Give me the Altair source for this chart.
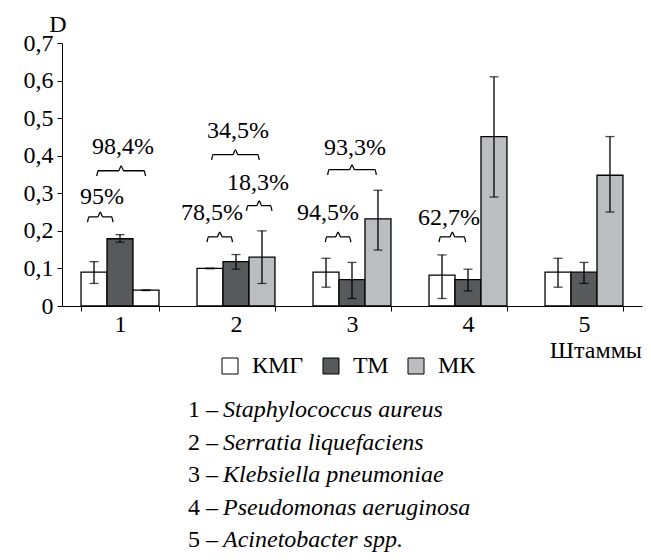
import altair as alt
import pandas as pd

FONT = "Liberation Serif"
FS = 24

strains = ["1", "2", "3", "4", "5"]
series = ["КМГ", "ТМ", "МК"]
colors = ["#ffffff", "#58595b", "#bcbdc0"]

kmg = [0.090, 0.100, 0.090, 0.082, 0.090]
kmg_lo = [0.060, 0.099, 0.050, 0.020, 0.050]
kmg_hi = [0.118, 0.101, 0.127, 0.136, 0.127]

tm = [0.179, 0.118, 0.070, 0.070, 0.090]
tm_lo = [0.170, 0.098, 0.020, 0.040, 0.060]
tm_hi = [0.190, 0.137, 0.116, 0.098, 0.116]

mk = [0.042, 0.130, 0.232, 0.451, 0.348]
mk_lo = [0.041, 0.060, 0.149, 0.290, 0.250]
mk_hi = [0.043, 0.200, 0.308, 0.610, 0.451]

species = [
    "Staphylococcus aureus",
    "Serratia liquefaciens",
    "Klebsiella pneumoniae",
    "Pseudomonas aeruginosa",
    "Acinetobacter spp.",
]

brace_labels = ["95%", "98,4%", "34,5%", "78,5%", "18,3%", "94,5%", "93,3%", "62,7%"]
brace_x0 = [0.72, 0.80, 1.79, 1.75, 2.09, 2.77, 2.79, 3.75]
brace_x1 = [0.94, 1.22, 2.20, 1.97, 2.31, 2.99, 3.21, 3.98]
brace_y = [0.237, 0.360, 0.403, 0.184, 0.267, 0.184, 0.363, 0.184]
label_x = [0.845, 1.026, 2.017, 1.793, 2.190, 2.793, 3.026, 3.836]
label_y = [0.290, 0.424, 0.467, 0.248, 0.328, 0.248, 0.421, 0.235]

# ---- bar table ----
rows = []
for vals, los, his, s in [(kmg, kmg_lo, kmg_hi, "КМГ"), (tm, tm_lo, tm_hi, "ТМ"), (mk, mk_lo, mk_hi, "МК")]:
    for st, v, lo, hi in zip(strains, vals, los, his):
        rows.append({"strain": st, "series": s, "value": v, "lo": lo, "hi": hi})
df = pd.DataFrame(rows)

# ---- brace shapes (curly brace built from the read span) ----
H = 0.014
brows = []
for i, (a, b, y) in enumerate(zip(brace_x0, brace_x1, brace_y)):
    m = (a + b) / 2
    pts = [(a, y - H), (a + 0.012, y), (m - 0.022, y), (m, y + H * 0.9),
           (m + 0.022, y), (b - 0.012, y), (b, y - H)]
    for k, (px, py) in enumerate(pts):
        brows.append({"id": i, "k": k, "x": px, "y": py})
bdf = pd.DataFrame(brows)
ldf = pd.DataFrame({"label": brace_labels, "x": label_x, "y": label_y})

xenc = alt.X(
    "strain:N", sort=strains,
    scale=alt.Scale(paddingInner=0.328, paddingOuter=0.164),
    axis=alt.Axis(title=None, tickBand="extent", labelAngle=0, tickSize=5,
                  labelFont=FONT, labelFontSize=FS, labelColor="black",
                  labelPadding=1, domainColor="black", tickColor="black"),
)
xoff = alt.XOffset("series:N", sort=series,
                   scale=alt.Scale(domain=series, paddingInner=0, paddingOuter=0))
yscale = alt.Scale(domain=[0, 0.7], nice=False)
yaxis = alt.Axis(title=None, values=[0, 0.1, 0.2, 0.3, 0.4, 0.5, 0.6, 0.7],
                 labelExpr="datum.value == 0 ? '0' : replace(format(datum.value, '.1f'), '.', ',')",
                 grid=False, tickSize=5, labelFont=FONT, labelFontSize=FS,
                 labelColor="black", labelPadding=4,
                 domainColor="black", tickColor="black")

base = alt.Chart(df)
bars = base.mark_bar(stroke="black", strokeWidth=1.3).encode(
    x=xenc,
    xOffset=xoff,
    y=alt.Y("value:Q", scale=yscale, axis=yaxis),
    fill=alt.condition(
        "datum.strain == '1' && datum.series == 'МК'",
        alt.value("white"),
        alt.Fill("series:N", sort=series,
                 scale=alt.Scale(domain=series, range=colors),
                 legend=alt.Legend(title=None, orient="none", legendX=156, legendY=311,
                                   direction="horizontal", symbolType="square",
                                   symbolSize=256, symbolStrokeColor="black",
                                   symbolStrokeWidth=1, labelFont=FONT,
                                   labelFontSize=FS, labelColor="black",
                                   labelOffset=10, columnPadding=15, padding=0)),
    ),
)
rules = base.mark_rule(color="black", strokeWidth=1.3).encode(
    x=xenc, xOffset=xoff, y=alt.Y("lo:Q", scale=yscale, axis=yaxis), y2="hi:Q")
cap_hi = base.mark_tick(color="black", thickness=1.3, size=9).encode(
    x=xenc, xOffset=xoff, y=alt.Y("hi:Q", scale=yscale, axis=yaxis))
cap_lo = base.mark_tick(color="black", thickness=1.3, size=9).encode(
    x=xenc, xOffset=xoff, y=alt.Y("lo:Q", scale=yscale, axis=yaxis))

band_layer = alt.layer(bars, rules, cap_hi, cap_lo)

qx = alt.Scale(domain=[0.5, 5.5], nice=False, zero=False)
braces = alt.Chart(bdf).mark_line(color="black", strokeWidth=1.3, interpolate="monotone").encode(
    x=alt.X("x:Q", scale=qx, axis=None),
    y=alt.Y("y:Q", scale=yscale, axis=yaxis),
    detail="id:N",
    order="k:Q",
)
pct = alt.Chart(ldf).mark_text(font=FONT, fontSize=FS, color="black",
                               align="center", baseline="middle").encode(
    x=alt.X("x:Q", scale=qx, axis=None),
    y=alt.Y("y:Q", scale=yscale, axis=yaxis),
    text="label:N",
)
brace_layer = alt.layer(braces, pct)

one = pd.DataFrame({"d": [0]})
ytitle = alt.Chart(one).mark_text(text="D", font=FONT, fontSize=FS, color="black",
                                  align="center", baseline="middle").encode(
    x=alt.value(-4), y=alt.value(-18))
xtitle = alt.Chart(one).mark_text(text="Штаммы", font=FONT, fontSize=FS, color="black",
                                  align="right", baseline="middle").encode(
    x=alt.value(580), y=alt.value(308))

nums_df = pd.DataFrame({"t": ["\n".join(f"{s} –" for s in strains)],
                        "n": ["\n".join(species)]})
nums = alt.Chart(nums_df).mark_text(font=FONT, fontSize=FS, color="black", align="left",
                                    baseline="middle", lineBreak="\n", lineHeight=32.5).encode(
    x=alt.value(126), y=alt.value(367), text="t:N")
names = alt.Chart(nums_df).mark_text(font=FONT, fontSize=FS, fontStyle="italic", color="black",
                                     align="left", baseline="middle", lineBreak="\n",
                                     lineHeight=32.5).encode(
    x=alt.value(161), y=alt.value(367), text="n:N")

chart = alt.layer(band_layer, brace_layer, ytitle, xtitle, nums, names).resolve_scale(
    x="independent"
).properties(
    width=580, height=263,
    autosize=alt.AutoSizeParams(type="none"),
    padding={"left": 54, "top": 35, "right": 1, "bottom": 246},
).configure_view(stroke=None)

chart.save("out.html", embed_options={"renderer": "svg", "actions": False})
